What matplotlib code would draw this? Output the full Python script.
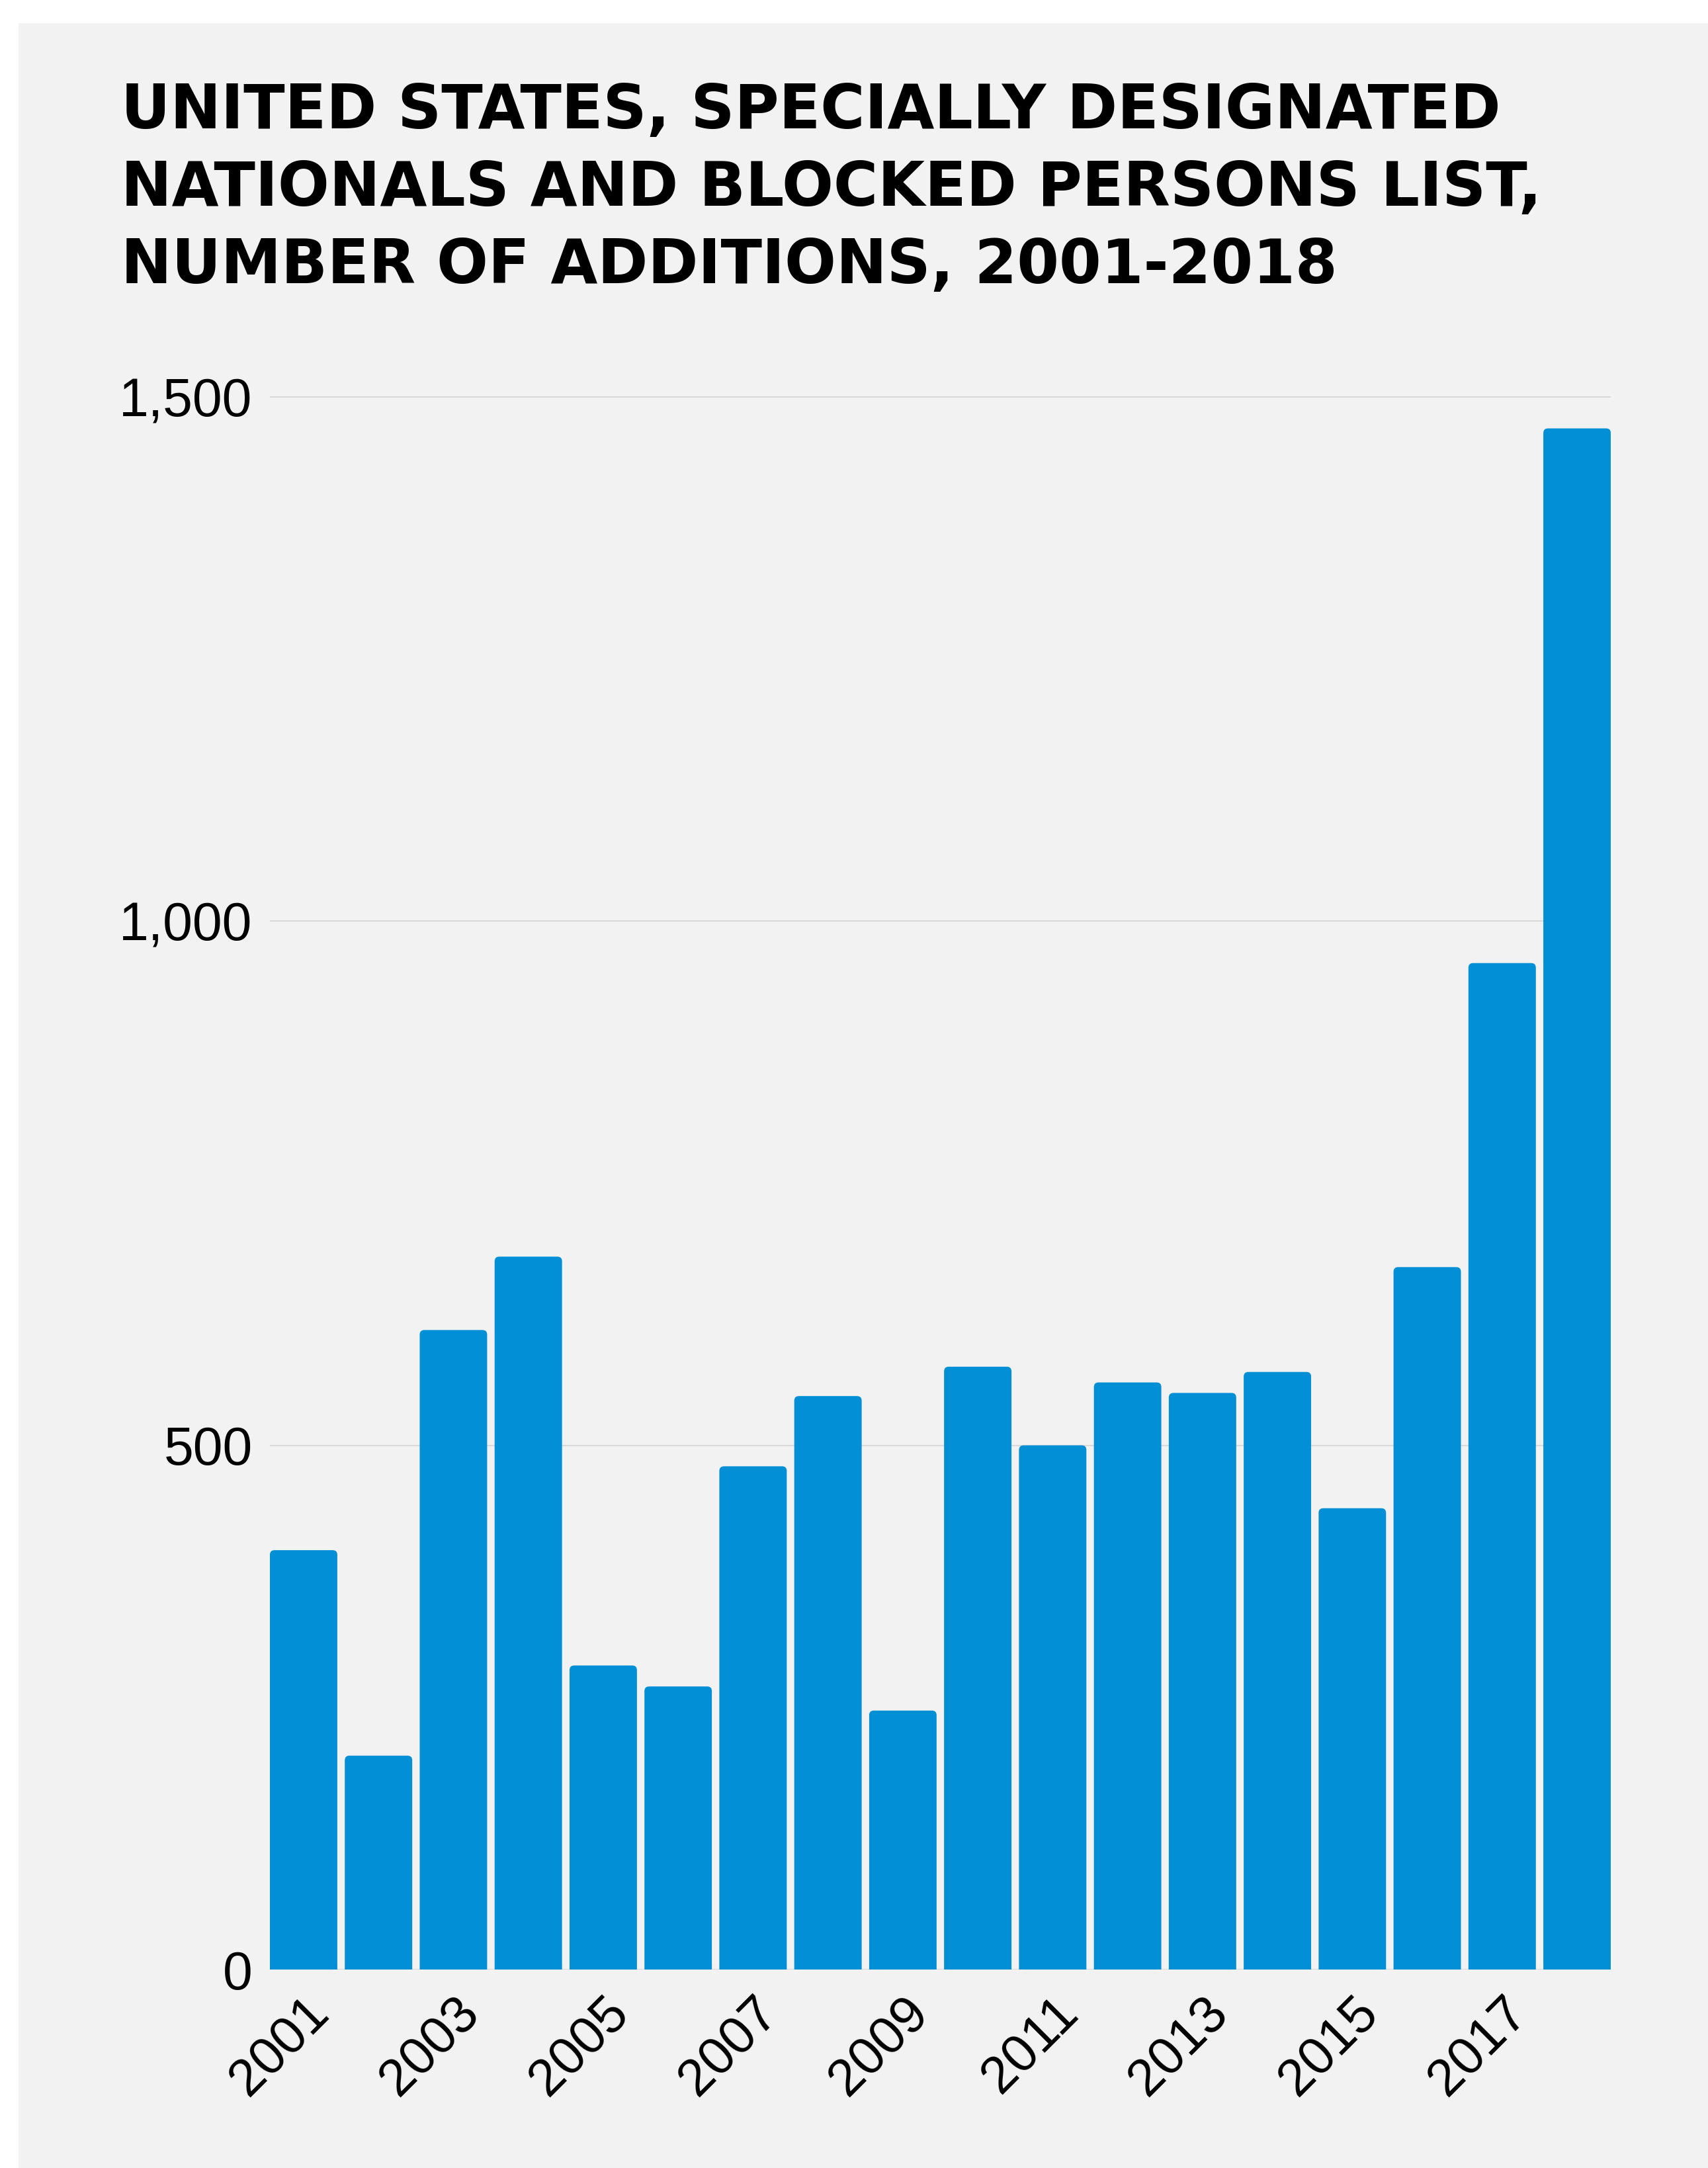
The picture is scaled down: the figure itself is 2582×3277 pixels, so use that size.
import numpy as np
import matplotlib
matplotlib.use("Agg")
import matplotlib.pyplot as plt
from matplotlib.patches import Rectangle, FancyBboxPatch

# データ
years = [str(y) for y in range(2001, 2019)]
additions = [400, 204, 610, 680, 290, 270, 480, 547, 247,
             575, 500, 560, 550, 570, 440, 670, 960, 1470]
yticks = [0, 500, 1000, 1500]
ytick_labels = ["0", "500", "1,000", "1,500"]
title_lines = ["UNITED STATES, SPECIALLY DESIGNATED",
               "NATIONALS AND BLOCKED PERSONS LIST,",
               "NUMBER OF ADDITIONS, 2001-2018"]

W, H, DPI = 2582, 3277, 100
bar_color = "#028fd5"
bg = "#f2f2f2"

fig = plt.figure(figsize=(W / DPI, H / DPI), dpi=DPI, facecolor="white")

# 背景パネル
fig.patches.append(Rectangle((28 / W, 0), 1 - 28 / W, 1 - 35 / H,
                             transform=fig.transFigure, facecolor=bg,
                             edgecolor="none", zorder=-10))

# タイトル
for i, line in enumerate(title_lines):
    fig.text(183 / W, 1 - (194 + i * 117) / H, line, fontsize=66,
             fontweight="bold", family="DejaVu Sans", color="black",
             va="baseline", ha="left")

ymax = 1520
ax = fig.add_axes([408 / W, 1 - 2977 / H, (2435 - 408) / W,
                   (ymax * 2377 / 1500) / H])
ax.set_facecolor("none")
x = np.arange(len(years))
ax.set_xlim(-0.45, len(years) - 0.55)
ax.set_ylim(0, ymax)

# 角丸の棒
px_x = ax.transData.transform((1, 0))[0] - ax.transData.transform((0, 0))[0]
px_y = ax.transData.transform((0, 1))[1] - ax.transData.transform((0, 0))[1]
r_px = 7
aspect = (r_px / px_y) / (r_px / px_x)
bars = ax.bar(x, additions, width=0.9, color=bar_color, zorder=3)
for b in bars:
    bx, bw, bh = b.get_x(), b.get_width(), b.get_height()
    b.remove()
    ax.add_patch(FancyBboxPatch((bx, -30), bw, bh + 30,
                                boxstyle="round,pad=0,rounding_size=%f" % (r_px / px_x),
                                mutation_aspect=aspect, facecolor=bar_color,
                                edgecolor="none", zorder=3))

ax.set_yticks(yticks)
ax.set_yticklabels(ytick_labels)
ax.grid(axis="y", color="#d9d9d9", linewidth=1.5, zorder=0)
ax.set_axisbelow(True)
for s in ax.spines.values():
    s.set_visible(False)

ax.set_xticks(x[::2])
ax.set_xticklabels(years[::2], rotation=45, ha="right", va="top",
                   rotation_mode="anchor")
ax.tick_params(axis="x", length=0, pad=20, labelsize=57)
ax.tick_params(axis="y", length=0, pad=19, labelsize=58)
for lab in ax.get_xticklabels() + ax.get_yticklabels():
    lab.set_family("Liberation Sans")

fig.savefig("out.png", dpi=DPI, facecolor=fig.get_facecolor())
